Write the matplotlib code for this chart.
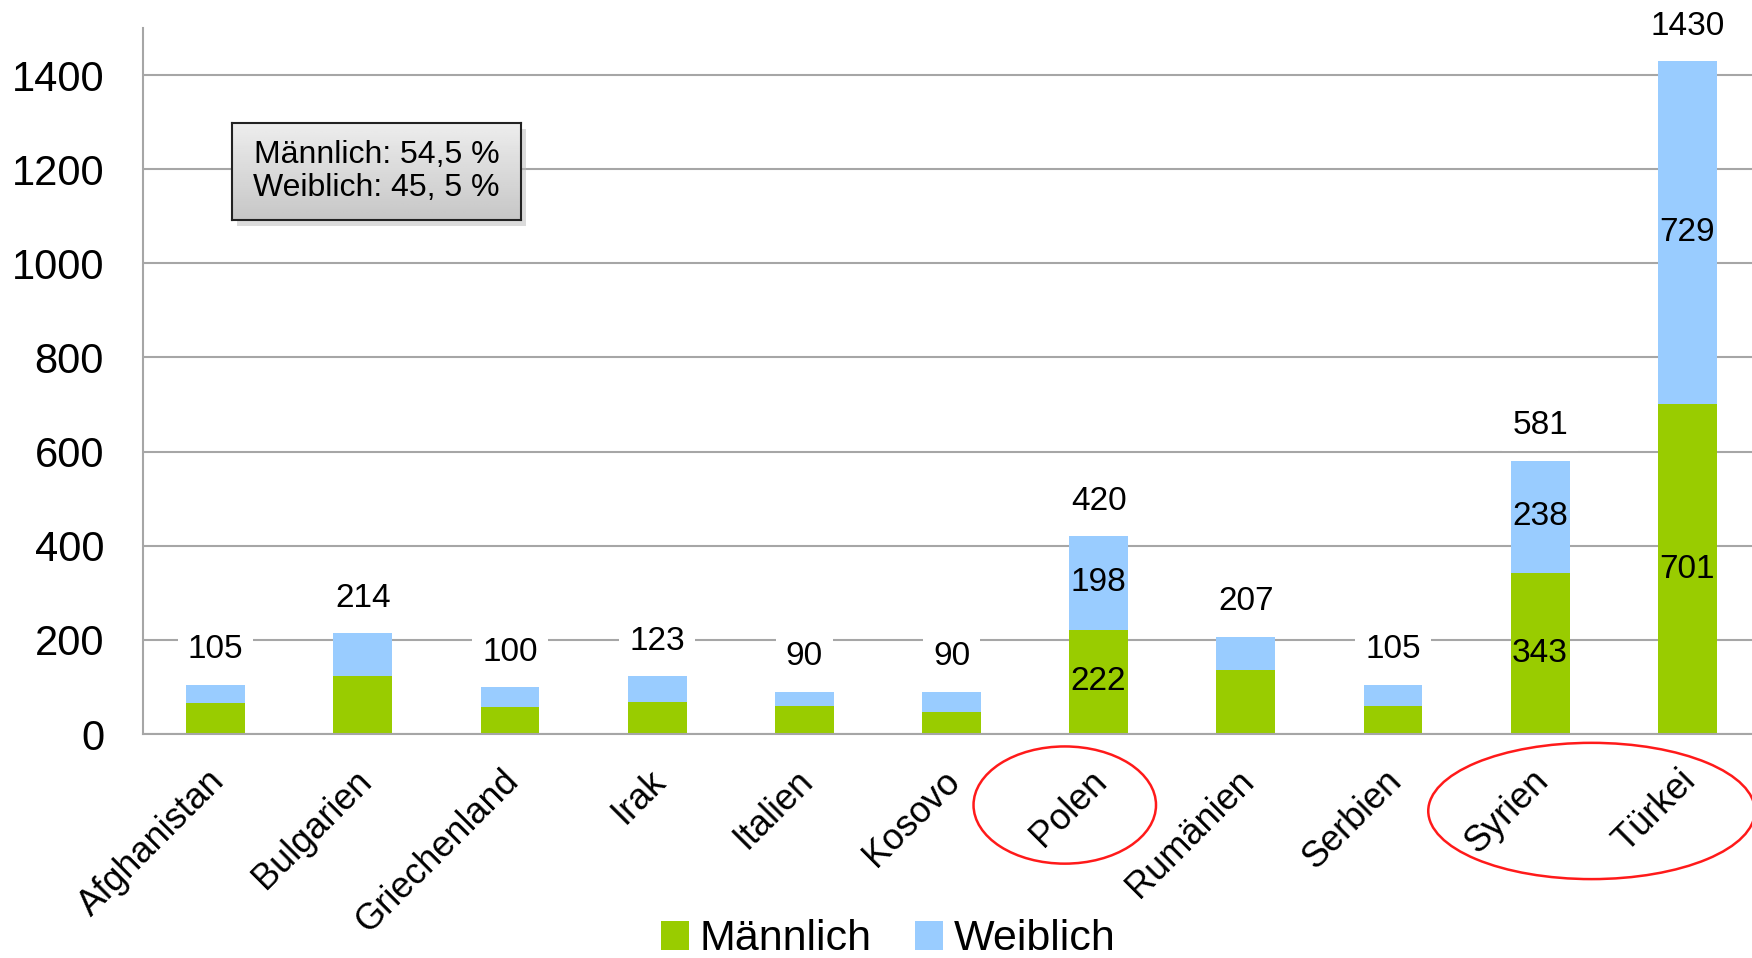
import numpy as np
import matplotlib.pyplot as plt
import matplotlib.transforms as mtransforms
from matplotlib.patches import Ellipse, Rectangle

plt.rcParams['font.family'] = ['Liberation Sans', 'DejaVu Sans']

# data
laender = ["Afghanistan", "Bulgarien", "Griechenland", "Irak", "Italien", "Kosovo",
           "Polen", "Rumänien", "Serbien", "Syrien", "Türkei"]
maennlich = np.array([66, 123, 57, 69, 59, 47, 222, 135, 59, 343, 701])
weiblich = np.array([39, 91, 43, 54, 31, 43, 198, 72, 46, 238, 729])
gesamt = [105, 214, 100, 123, 90, 90, 420, 207, 105, 581, 1430]
innen = ["Polen", "Syrien", "Türkei"]  # bars with segment values shown

gruen = "#99CC00"
blau = "#99CCFF"

fig = plt.figure(figsize=(17.52, 9.58), dpi=100)
ax = fig.add_axes([0.0816, 0.2338, 0.9184, 0.737])

x = np.arange(len(laender))
ax.bar(x, maennlich, width=0.4, color=gruen, label="Männlich", zorder=2)
ax.bar(x, weiblich, width=0.4, bottom=maennlich, color=blau, label="Weiblich", zorder=2)

ax.set_xlim(-0.494, 10.44)
ax.set_ylim(0, 1500)
ax.set_yticks(range(0, 1401, 200))
ax.yaxis.grid(True, color="#a6a6a6", linewidth=1.5, zorder=0)
ax.set_axisbelow(True)
for s in ["top", "right"]:
    ax.spines[s].set_visible(False)
for s in ["left", "bottom"]:
    ax.spines[s].set_color("#a6a6a6")
    ax.spines[s].set_linewidth(1.5)
ax.tick_params(axis="both", length=0)
ax.tick_params(axis="y", labelsize=30, pad=28)

ax.set_xticks(x)
ax.set_xticklabels(laender, rotation=45, ha="right", va="top",
                   rotation_mode="anchor", fontsize=26)
ax.tick_params(axis="x", pad=21)
shift = mtransforms.ScaledTranslation(-9 / 100, 0, fig.dpi_scale_trans)
for lab in ax.get_xticklabels():
    lab.set_transform(lab.get_transform() + shift)

# totals above bars
for i, t in enumerate(gesamt):
    ax.annotate(str(t), (x[i], maennlich[i] + weiblich[i]), xytext=(0, 25),
                textcoords="offset points", ha="center", va="center", fontsize=24,
                bbox=dict(boxstyle="square,pad=0.3", fc="white", ec="none"), zorder=3)

# segment values inside selected bars
for i, name in enumerate(laender):
    if name in innen:
        ax.text(x[i], maennlich[i] / 2, str(maennlich[i]), ha="center", va="center",
                fontsize=24, zorder=3)
        ax.text(x[i], maennlich[i] + weiblich[i] / 2, str(weiblich[i]), ha="center",
                va="center", fontsize=24, zorder=3)

# red circles round the highlighted labels
trans = mtransforms.blended_transform_factory(ax.transData, ax.transAxes)
ax.add_patch(Ellipse((5.77, -0.1006), 1.24, 0.166, transform=trans, fill=False,
                     ec="#ff1a1a", lw=1.8, clip_on=False))
ax.add_patch(Ellipse((9.35, -0.109), 2.22, 0.193, transform=trans, fill=False,
                     ec="#ff1a1a", lw=1.8, clip_on=False))

# info box with shadow and gradient
x0, y0, w, h = 0.1324, 0.7704, 0.165, 0.1013
fig.patches.append(Rectangle((x0 + 0.003, y0 - 0.006), w, h, transform=fig.transFigure,
                             fc="#b8b8b8", ec="none", alpha=0.5, zorder=5))
bax = fig.add_axes([x0, y0, w, h], zorder=6)
grad = np.linspace(0.93, 0.78, 50).reshape(-1, 1)
bax.imshow(grad, aspect="auto", cmap="gray", vmin=0, vmax=1, extent=[0, 1, 0, 1])
bax.set_xticks([])
bax.set_yticks([])
for s in bax.spines.values():
    s.set_color("#222222")
    s.set_linewidth(1.5)
bax.text(0.5, 0.5, "Männlich: 54,5 %\nWeiblich: 45, 5 %", ha="center", va="center",
         fontsize=23, linespacing=1.1, transform=bax.transAxes)

ax.legend(loc="lower center", bbox_to_anchor=(0.507, -0.042), bbox_transform=fig.transFigure,
          ncol=2, frameon=False, fontsize=31, handlelength=0.65, handleheight=0.65,
          handletextpad=0.25, columnspacing=1.0)

fig.savefig("out.png", dpi=100)
